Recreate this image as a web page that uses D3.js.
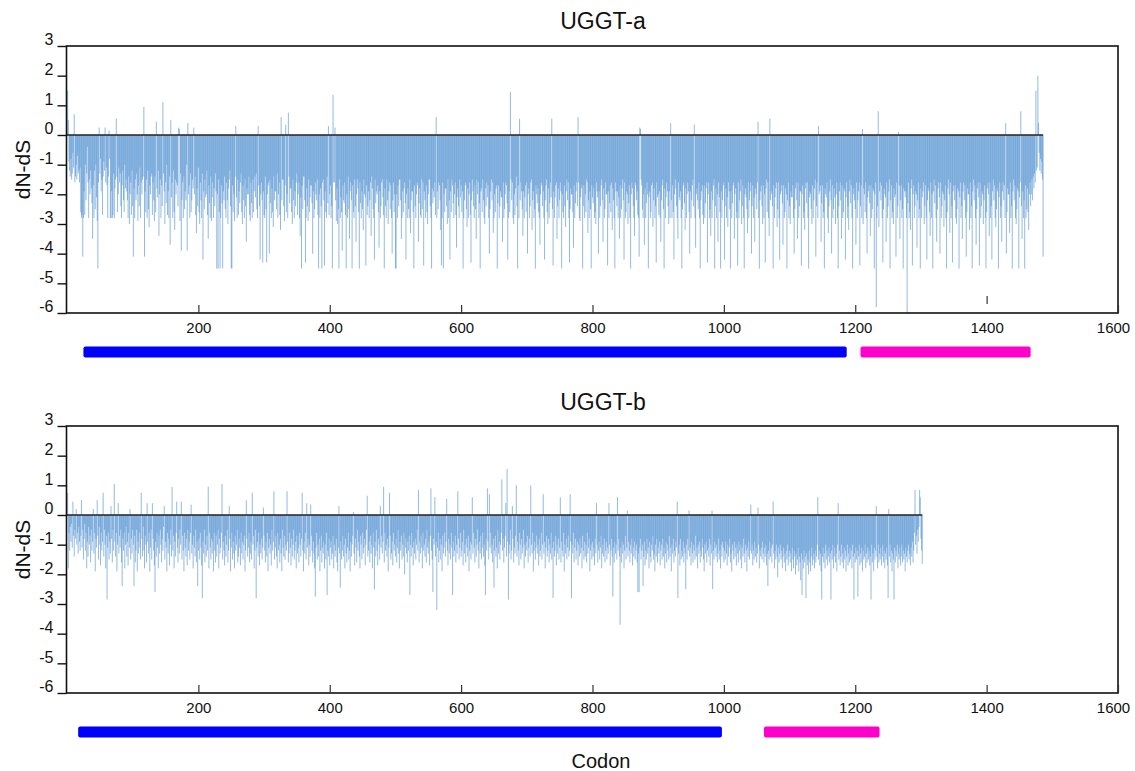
<!DOCTYPE html>
<html>
<head>
<meta charset="utf-8">
<script src="https://cdn.jsdelivr.net/npm/d3@7"></script>
<style>
  html, body { margin: 0; padding: 0; background: #fff; }
  svg { display: block; font-family: "Liberation Sans", Arial, sans-serif; }
</style>
</head>
<body>
<svg id="chart" width="1135" height="771"></svg>
<script>
// ---------- DATA ----------
const panelTitles = ["UGGT-a", "UGGT-b"];
const xTickValues = [200, 400, 600, 800, 1000, 1200, 1400, 1600];
const yTickValues = [3, 2, 1, 0, -1, -2, -3, -4, -5, -6];
const xLabel = "Codon";
const yLabel = "dN-dS";

// domain annotation bars [startCodon, endCodon]
const domainsA = [[25, 1187], [1208, 1467]];
const domainsB = [[17, 997], [1061, 1237]];

// dN-dS per codon (codon = index + 1), UGGT-a
const uggtA = [
1.5,0.5,-0.9,-1.2,-1.4,-0.8,-1.5,-1.3,-0.6,-1.1,0.7,-1.6,-1.4,-1.0,-1.5,-0.7,-1.3,-1.2,-1.6,-1.1,
-2.6,-2.8,-2.7,-4.1,-2.8,-1.9,-2.7,-1.0,-2.2,-1.3,-0.4,-1.6,-2.8,-1.5,-2.0,-1.2,-1.8,-2.3,-3.5,-1.7,
-2.8,-1.2,-2.5,-1.0,-2.1,-2.9,-4.5,-1.6,0.25,-1.3,-0.8,-1.9,-1.5,-2.7,-1.4,-0.9,-1.2,0.25,-1.6,-1.1,
-1.7,-2.8,-1.4,0.15,-0.8,-2.8,-2.8,-1.9,-2.8,-2.7,-1.3,-2.8,-1.8,-1.5,0.55,-1.4,-2.6,-2.0,-1.1,-1.6,
-1.3,-2.4,-2.8,-1.7,-1.2,-2.2,-2.6,-1.0,-1.8,-1.5,-1.9,-2.2,-2.8,-1.4,-3.0,-2.0,-1.6,-2.7,-1.2,-2.4,
-4.1,-1.8,-2.8,-1.5,-2.2,-1.3,-2.0,-2.9,-1.7,-2.4,-1.1,-2.8,-1.6,-2.0,-1.5,-1.4,0.95,-4.1,-1.9,-2.6,
-1.5,-2.8,-1.2,-2.5,-3.1,-1.7,-2.0,-1.4,-1.3,-2.7,-1.6,-2.2,-2.9,-1.4,-2.6,0.45,-1.8,-2.1,-1.2,-3.4,
-2.0,-1.5,-2.8,-1.7,-2.4,1.1,-1.3,-1.9,-3.0,-1.6,-2.3,-1.0,-2.7,-1.9,-2.8,-1.4,-3.7,0.5,-2.1,-1.6,
-2.8,-1.2,-2.6,-3.2,-1.5,-2.0,-1.6,-1.7,-2.4,0.25,0.2,-2.9,-1.3,-3.9,-2.2,-1.6,-2.8,-1.4,-2.5,-1.9,
-2.2,-1.0,-3.9,0.4,-2.0,-1.7,-2.8,-1.3,-2.6,-2.2,-1.5,-1.8,0.25,-2.0,-1.4,-2.7,-3.3,-1.8,-2.4,-1.1,
-2.6,-3.0,-1.6,-2.2,-2.8,-1.3,-4.2,-1.9,-2.5,-1.5,-2.1,-2.0,-1.2,-2.7,-3.5,-1.7,-2.3,-2.8,-1.4,-2.9,
-2.1,-1.6,-2.8,-1.8,-2.4,-1.3,-1.9,-4.5,-2.0,-4.5,-1.5,-2.6,-4.5,-2.8,-1.7,-2.3,-4.5,-1.9,-2.2,-1.4,
-2.5,-2.8,-1.6,-2.2,-3.0,-1.8,-1.5,-1.2,-2.4,-4.5,-4.5,-1.7,-2.6,-2.0,-2.9,-1.4,0.3,-2.1,-2.8,-1.5,
-2.7,-1.9,-2.3,-1.6,-1.3,-2.6,-3.0,-1.7,-2.2,-2.8,-1.5,-2.4,-3.6,-1.8,-2.0,-2.0,-1.4,-2.7,-2.9,-1.6,
-2.3,-2.8,-1.5,-2.6,-1.9,-1.4,-2.1,-1.3,-2.5,-2.8,0.3,-1.7,-2.4,-4.2,-2.0,-1.6,-2.2,-4.3,-1.9,-2.7,
-2.8,-1.4,-2.5,-4.3,-2.0,-1.7,-1.6,-4.0,-1.5,-2.3,-2.8,-1.8,-2.6,-3.1,-1.4,-2.2,-1.9,-1.9,-2.5,-1.3,
-2.8,-2.0,-1.6,-2.7,-3.2,0.6,-2.2,-1.5,-1.5,-2.4,-2.9,-1.7,0.35,-2.6,-2.0,-2.8,0.75,-1.4,-2.3,-1.8,
-1.8,-2.6,-3.0,-1.5,-2.2,-2.8,-1.9,-2.4,-1.6,-1.3,-2.7,-2.0,-1.6,-2.8,-3.4,-2.1,-4.5,-1.7,-2.5,-1.4,
-1.4,-2.2,-4.3,-2.8,-1.8,-2.4,-2.9,-1.5,-2.6,-2.1,-1.7,-1.7,-2.3,-4.0,-1.9,-2.8,-2.5,-1.6,-2.0,-2.2,
-1.5,-2.7,-4.5,-2.0,-2.8,-1.8,-2.4,-4.5,-1.6,-1.5,-2.2,-4.4,-1.9,-2.6,-2.8,-1.4,-2.3,0.3,-2.7,-2.0,
-1.7,-2.8,-2.4,-4.5,1.35,-1.6,-1.6,0.25,-2.2,-2.9,-1.8,-3.0,-2.5,-4.5,-1.5,-2.8,-2.1,-2.6,-3.9,-1.7,
-2.2,-2.3,-1.6,-2.7,-4.5,-2.0,-2.8,-1.4,-2.5,-3.5,-1.9,-1.6,-2.2,-4.5,-1.7,-2.6,-2.8,-1.5,-2.4,-3.6,
-2.0,-1.5,-1.8,-2.6,-4.5,-1.6,-2.3,-2.8,-1.9,-2.5,-3.2,-1.5,-2.0,-2.1,-4.4,-1.7,-2.7,-2.4,-1.9,-2.8,
-2.2,-1.6,-3.4,-1.4,-1.8,-2.5,-2.8,-4.2,-1.5,-2.3,-1.9,-2.0,-1.7,-2.6,-3.8,-1.9,-2.8,-2.4,-1.6,-1.5,
-2.1,-2.7,-4.5,-1.8,-2.4,-2.8,-1.5,-2.2,-3.0,-1.9,-1.6,-2.5,-1.7,-2.8,-4.0,-2.2,-1.6,-2.6,-2.0,-4.5,
-4.5,-2.0,-2.8,-1.7,-2.4,-1.5,-1.5,-2.2,-3.5,-2.8,-1.9,-2.6,-1.8,-1.6,-2.3,-4.2,-2.0,-2.8,-1.8,-2.5,
-2.8,-1.5,-3.3,-2.2,-1.9,-1.9,-2.6,-4.5,-1.7,-2.4,-2.8,-2.0,-1.6,-1.7,-3.6,-2.3,-1.8,-2.7,-2.8,-1.5,
-2.5,-1.6,-4.4,-1.9,-2.2,-2.8,-1.7,-2.6,-3.0,-2.0,-1.5,-1.5,-2.4,-2.8,-4.5,-1.8,-2.3,-1.9,-2.1,-1.6,
-2.7,0.6,-2.8,-1.9,-2.5,-1.6,-1.7,-2.2,-3.2,-4.4,-2.8,-1.6,-4.5,-2.0,-2.6,-1.8,-1.8,-2.4,-3.0,-1.5,
-2.8,-2.2,-4.2,-1.9,-2.6,-1.5,-1.7,-2.3,-2.8,-2.0,-1.6,-2.7,-3.8,-2.1,-1.8,-2.4,-2.8,-1.5,-2.1,-1.7,
-2.6,-1.9,-4.5,-2.8,-2.2,-1.7,-1.6,-2.5,-3.1,-1.8,-2.8,-2.0,-1.6,-2.7,-4.3,-2.2,-1.5,-1.9,-2.4,-2.8,
-1.7,-2.5,-3.5,-1.5,-2.0,-1.6,-2.8,-2.3,-4.5,-1.9,-1.8,-2.6,-1.5,-2.2,-2.8,-3.0,-1.8,-2.4,-1.6,-2.1,
-1.7,-2.8,-4.0,-2.5,-1.9,-1.5,-2.2,-1.6,-3.3,-2.8,-2.0,-2.6,-1.8,-1.7,-4.5,-2.3,-1.7,-2.8,-2.4,-1.9,
-2.1,-2.1,-3.6,-1.6,-2.8,-2.5,-2.0,-1.6,-1.7,-2.3,-4.2,-2.8,-1.9,-2.6,1.45,-1.5,-2.2,-1.6,-2.8,-3.0,
-2.0,-2.7,-1.8,-1.4,-2.4,-4.5,-1.7,-2.8,0.55,-2.2,-1.6,-1.9,-2.5,-3.4,-1.9,-2.8,-2.1,-1.7,-2.6,-1.6,
-4.0,-2.0,-1.8,-2.8,-2.4,-1.6,-1.5,-3.2,-2.2,-1.9,-2.8,-2.5,-4.5,-1.7,-2.0,-2.3,-1.8,-2.6,-2.8,-3.7,
-2.0,-1.6,-1.7,-2.4,-1.9,-2.8,-4.2,-2.2,-1.7,-1.5,-2.6,-3.0,-1.8,-2.8,-2.3,-1.6,-2.1,0.55,-2.5,-4.4,
-1.9,-2.8,-2.1,-1.7,-1.6,-3.5,-2.4,-1.8,-2.8,-2.2,-1.6,-1.9,-4.5,-2.0,-2.6,-2.8,-1.7,-2.4,-3.1,-1.9,
-1.5,-2.2,-1.6,-2.8,-4.3,-2.5,-1.8,-2.0,-2.0,-2.6,-3.8,-1.7,-2.8,-2.3,-1.9,-1.6,-2.4,0.6,-1.6,-2.8,
-2.9,-2.1,-1.8,-1.7,-4.5,-2.4,-1.7,-2.8,-2.0,-2.6,-1.5,-1.6,-3.3,-2.2,-2.8,-1.9,-2.5,-4.5,-1.7,-2.1,
-2.3,-1.8,-2.8,-2.6,-3.0,-1.6,-1.9,-2.1,-4.0,-1.9,-2.8,-2.4,-1.7,-1.5,-2.2,-3.6,-1.8,-2.8,-2.5,-1.6,
-2.0,-2.0,-4.4,-1.9,-2.8,-2.3,-1.7,-2.6,-1.6,-3.2,-1.8,-2.2,-2.8,-4.5,-1.6,-1.9,-2.4,-1.9,-2.8,-2.1,
-3.5,-1.7,-2.8,-2.5,-1.8,-1.5,-2.2,-4.2,-1.6,-2.8,-2.6,-1.9,-2.0,-3.0,-2.3,-1.7,-2.8,-4.5,-2.0,-1.6,
-1.8,-2.4,-2.8,-3.4,-1.6,-1.7,-2.2,-1.9,-2.7,-2.8,-4.1,0.25,0.2,-1.5,-1.7,-2.5,-2.8,-2.0,-3.7,-1.8,
-2.8,-2.3,-1.6,-2.0,-4.5,-2.1,-1.9,-2.8,-2.6,-1.7,-1.6,-3.1,-2.2,-1.8,-2.8,-2.4,-4.3,-1.6,-2.1,-2.0,
-2.7,-1.9,-2.8,-3.6,-2.2,-1.7,-1.5,-2.5,-4.5,-1.8,-2.8,-2.1,-1.6,-1.9,-2.4,-3.0,-1.9,-2.8,0.4,-2.2,
-2.8,-1.7,-2.6,-4.2,-2.0,-1.5,-1.8,-2.4,-2.8,-3.5,-1.6,-2.1,-2.2,-1.9,-2.8,-4.5,-2.5,-1.7,-1.6,-2.3,
-3.2,-1.8,-2.8,-2.0,-1.6,-1.9,-2.6,-4.0,-1.9,-2.8,-2.2,-1.7,-1.5,-2.4,0.35,-2.8,-3.8,-2.0,-1.8,-2.2,
-2.5,-1.6,-2.8,-4.5,-2.2,-1.9,-1.7,-2.7,-3.0,-1.7,-2.8,-2.3,-1.8,-1.6,-4.3,-2.0,-1.6,-2.8,-2.5,-3.4,
-1.9,-2.8,-2.2,-1.7,-1.5,-4.5,-2.4,-1.8,-2.8,-2.0,-3.6,-1.6,-2.1,-2.6,-4.5,-1.9,-2.8,-2.2,-1.7,-1.6,
-4.2,-2.4,-1.8,-2.8,-2.1,-3.1,-1.6,-1.9,-2.5,-4.5,-1.9,-2.8,-2.3,-1.7,-1.6,-3.5,-2.0,-1.8,-2.8,-2.6,
-4.4,-1.6,-2.8,-2.2,-1.9,-1.5,-3.0,-2.4,-1.7,-2.8,-4.5,-2.0,-1.8,-2.1,-2.5,-3.3,-1.6,-2.8,-2.2,-1.9,
-1.6,-4.0,-2.4,-1.7,-2.8,-2.1,-3.6,-1.8,-2.0,-2.5,-1.6,0.45,-2.8,-4.5,-2.2,-1.9,-1.7,-2.4,-3.0,-1.7,
-2.8,-2.0,-4.3,-1.8,-1.5,-2.6,-1.6,-2.8,-3.4,0.55,-2.2,-1.9,-2.0,-2.4,-4.5,-1.7,-2.8,-2.1,-1.8,-1.6,
-3.1,-2.5,-1.6,-2.8,-4.2,-2.0,-1.9,-1.7,-2.3,-3.7,-1.7,-2.8,-2.6,-1.8,-2.0,-4.5,-2.2,-1.6,-2.8,-2.4,
-3.0,-1.9,-2.1,-2.1,-1.7,-2.8,-4.0,-2.5,-1.8,-1.6,-2.2,-3.5,-1.6,-2.8,-2.4,-1.9,-1.9,-4.4,-2.0,-1.7,
-2.8,-2.6,-3.2,-1.8,-1.6,-2.3,-1.6,-2.8,-4.5,-2.1,-1.9,-2.0,-2.5,-3.0,-1.7,-2.8,-2.2,-1.8,-1.5,-4.1,
-2.4,-1.6,-2.8,0.3,-2.0,-1.9,-1.7,-3.6,-2.3,-1.7,-2.8,-2.6,-4.5,-1.8,-2.0,-2.1,-1.6,-2.8,-3.3,-2.4,
-1.9,-1.5,-2.2,-4.0,-1.7,-2.8,-2.5,-1.8,-2.1,-3.0,-2.0,-1.6,-2.8,-4.5,-2.4,-1.9,-1.6,-2.2,-3.5,-1.7,
-2.8,-2.6,-1.8,-1.9,-4.2,-2.1,-1.6,-2.8,-2.4,-3.2,-1.9,-1.5,-2.3,-1.7,-2.8,-4.5,-2.0,-1.8,-2.2,-2.5,
-3.7,-1.6,-2.8,-2.2,-1.9,-1.6,-4.4,-2.4,-1.7,-2.8,0.2,-3.0,-1.8,-2.0,-2.6,-1.6,-2.8,-4.0,-2.1,-1.9,
-1.7,-2.3,-3.4,-1.7,-2.8,-2.5,-1.8,-1.9,-4.5,-2.0,-1.6,-5.8,-2.8,-2.4,0.8,-3.1,-1.9,-1.6,-2.2,-1.7,
-2.8,-4.3,-2.5,-1.8,-2.0,-2.1,-3.6,-1.6,-2.8,-2.4,-1.9,-1.5,-4.5,-2.2,-1.7,-2.8,-2.6,-3.0,-1.8,-2.1,
-2.0,-4.1,-1.6,-2.8,-2.4,0.1,-1.7,-3.5,-2.2,-1.7,-2.8,-2.5,-4.5,-1.8,-1.9,-2.1,-1.9,-2.8,-6.0,-2.3,
-1.6,-2.8,-2.6,-3.2,-1.8,-1.5,-4.4,-2.0,-1.7,-2.8,-2.4,-1.9,-2.0,-3.8,-2.2,-1.6,-2.8,-2.5,-4.5,-1.8,
-2.8,-2.1,-1.9,-1.6,-3.0,-2.4,-1.7,-2.8,-4.2,-2.2,-1.8,-1.9,-2.6,-3.4,-1.6,-2.8,-2.0,-4.5,-1.9,-1.5,
-2.3,-1.7,-2.8,-3.6,-2.5,-1.8,-1.6,-2.1,-4.0,-1.6,-2.8,-2.4,-1.9,-2.0,-3.1,-2.2,-1.7,-2.8,-4.5,-2.6,
-1.8,-1.5,-2.0,-3.3,-1.6,-2.8,-2.4,-4.3,-1.9,-1.7,-2.2,-1.7,-2.8,-3.0,-2.5,-1.8,-1.9,-4.5,-2.1,-1.6,
-2.8,-2.4,-3.5,-1.9,-1.6,-2.2,-1.7,-2.8,-4.1,-2.6,-1.8,-2.0,-2.0,-3.2,-1.6,-2.8,-2.4,-4.5,-1.9,-1.5,
-2.2,-1.7,-2.8,-3.7,-2.5,-1.8,-1.6,-2.1,-4.4,-1.6,-2.8,-2.4,-1.9,-2.0,-3.0,-2.2,-1.7,-2.8,-4.5,-2.6,
-1.8,-1.6,-2.0,-3.4,-1.6,-2.8,-2.4,-4.2,-1.9,-1.5,-2.2,-1.7,-2.8,-3.1,-2.5,-1.8,-1.9,-4.5,-2.1,-1.6,
-2.8,-2.4,-3.6,-1.9,-1.6,-2.2,-1.7,-2.8,0.4,-4.0,-2.6,-1.8,-2.0,-2.0,-3.3,-1.6,-2.8,-2.4,-4.5,-1.9,
-1.5,-2.2,-1.7,-2.8,-3.0,-2.5,-1.8,-1.9,-4.5,-2.1,-1.6,0.8,-2.4,-3.5,-1.9,-2.8,-2.2,-4.5,-1.7,-2.8,
-2.5,-1.8,-2.6,-3.2,-2.0,-1.6,-2.4,-2.0,-1.5,-2.2,-1.4,-1.8,-1.3,-1.6,1.5,-1.2,-1.1,2.0,0.4,-0.6,
-1.2,-0.8,-1.3,-0.9,-1.5,-4.1
];

// dN-dS per codon (codon = index + 1), UGGT-b
const uggtB = [
0.75,-1.8,-0.6,-1.2,-0.4,-0.9,-0.3,-1.1,0.45,-0.7,-1.4,-0.5,-0.8,0.2,-1.0,-0.6,-1.3,-0.4,-0.9,-1.2,
-0.7,0.5,-1.1,-0.5,-1.5,-0.8,-0.3,-1.2,-0.6,-1.8,-0.9,-1.4,-0.4,-1.0,-0.7,-1.6,-0.5,-1.2,-0.9,0.2,
-1.3,-0.6,-1.9,-0.8,-1.1,0.5,-0.7,-1.5,-0.4,-1.0,-1.7,-0.6,-1.2,-0.9,0.75,-1.4,-0.5,-1.0,-1.8,-0.7,
-2.85,-1.1,-0.6,-1.5,-0.9,-1.3,0.3,-0.8,-1.6,-0.5,-1.2,1.05,-0.9,-1.4,-0.6,-1.9,-1.0,0.4,-1.3,-0.7,
-1.1,-0.5,-1.6,-2.4,-0.8,-1.2,-0.6,-1.8,-1.0,-0.4,-1.4,-0.9,-1.7,-0.6,-1.1,0.2,-1.5,-0.8,-1.3,-0.5,
-1.0,-2.4,-0.7,-1.6,-1.2,-0.5,-1.9,-0.9,-1.3,-0.6,-1.1,-1.5,0.75,-0.8,-1.4,-0.4,-1.2,-1.8,-0.7,-1.0,
-1.6,0.4,-0.9,-1.3,-0.6,-1.9,-1.1,-0.5,-1.5,0.4,-0.8,-1.2,-1.7,-2.6,-0.9,-1.4,-0.6,-1.1,-1.8,-0.7,
-1.3,-0.5,-1.0,-1.6,-0.8,-1.2,-0.4,0.3,-1.5,-0.9,-1.1,-1.9,-0.6,-1.3,-0.8,-1.7,-1.0,-0.5,-1.4,0.95,
-1.2,-0.7,-1.8,-0.9,-1.4,-0.6,0.45,-1.1,-1.6,-0.8,-1.3,-0.5,-1.0,0.45,-1.5,-0.7,-1.2,-1.9,-0.6,-1.1,
-1.4,-0.8,-1.7,-0.5,-1.2,-0.9,-1.5,-0.6,0.35,-1.3,-1.0,-1.8,-0.7,-1.1,-1.4,-0.5,-1.6,-0.9,-2.4,-1.2,
-0.8,-1.5,-0.6,-1.1,-1.7,-2.8,-0.9,-1.3,-0.5,-1.6,-1.0,-1.4,-0.7,-1.2,0.95,-1.8,-0.6,-1.1,-1.5,-0.8,
-1.3,-0.9,-1.9,-0.6,-1.2,-1.6,-0.7,-1.4,-1.0,-0.5,-1.8,-0.8,-1.3,-1.1,-0.6,1.05,-1.5,-0.9,-1.2,-1.7,
-0.7,-1.4,-1.0,-0.5,-1.6,-1.2,0.3,-0.8,-1.9,-1.1,-0.6,-1.5,-0.9,-1.3,-1.8,-0.7,-1.2,-1.0,-0.5,-1.6,
-1.4,-0.8,-1.1,-1.7,-0.6,-1.3,-0.9,-1.5,-1.0,-0.7,-1.9,-1.2,0.5,-0.8,-1.4,-1.1,-0.6,-1.6,-1.3,-0.9,
-1.5,0.75,-1.0,-0.7,-1.8,-1.2,-0.5,-2.8,-1.1,-0.9,-1.4,-0.6,-1.7,-1.0,-1.3,-0.8,-1.5,-1.1,0.25,-0.7,
-1.2,-1.6,-0.9,-1.4,-0.6,-1.9,-1.1,-0.8,-1.3,-1.0,-1.7,-0.5,-1.2,-0.9,0.8,-1.5,-1.1,-0.7,-1.4,-1.8,
-0.6,-1.2,-1.0,-1.6,-0.8,-1.3,-1.9,-0.5,-1.1,-1.4,-0.7,-1.5,-1.0,-1.2,0.8,-0.9,-1.6,-1.3,-0.6,-1.1,
-1.7,-0.8,-1.4,-1.0,-0.5,-1.5,-1.2,-0.9,-1.8,-0.7,-1.3,-1.1,-1.6,-0.6,-1.0,-1.4,-0.8,0.75,-1.2,-1.9,
-0.9,-1.3,-0.6,-1.5,0.4,-1.1,-0.8,-1.7,-1.0,-1.4,0.35,-0.7,-1.2,-1.6,-0.9,-1.3,-1.8,-2.75,-1.1,-0.6,
-1.5,-1.0,-1.4,-0.8,-1.9,-1.2,-0.7,-1.6,-1.1,-1.3,-0.9,-1.8,-1.0,-1.5,-0.6,-2.7,-1.2,-1.4,-0.8,-1.7,
-1.1,-0.9,-1.5,-1.3,-0.7,-1.8,-1.0,-1.4,-1.2,-0.8,-1.6,-1.9,-1.1,0.3,-1.3,-2.45,-0.9,-1.5,-1.2,-0.7,
-1.4,-1.0,-1.8,-0.8,-1.3,-1.6,-1.1,-0.6,-1.5,-1.2,-1.9,-0.9,-1.4,-1.0,-0.7,0.1,-1.3,-1.7,-0.8,-1.1,
-1.6,-0.5,-1.2,-0.9,-1.4,-1.8,-0.7,-1.0,-1.5,-0.6,-1.3,-1.1,-0.8,-1.7,-1.0,-0.5,0.65,-1.4,-1.2,-0.9,
-1.6,-0.7,-1.3,-1.0,-1.8,-0.6,-1.1,-2.5,-0.9,-1.4,-0.5,-1.2,-1.7,-0.8,-1.0,-1.5,0.3,-1.1,-0.7,-1.3,
-0.9,0.95,-1.6,-0.6,-1.2,-1.0,-1.4,-0.8,-1.9,-1.1,0.75,-0.7,-1.5,-1.3,-0.9,-1.7,-0.6,-1.2,-1.0,-1.4,
-0.8,-1.6,-1.1,-0.5,-1.3,-1.8,-0.9,-1.2,-0.7,-1.5,-1.0,-1.4,-0.6,-2.0,-1.1,-0.8,-1.3,-1.6,-0.9,-1.2,
-0.7,-2.7,-1.0,-1.4,-0.6,-1.1,-1.7,-0.9,-1.3,-0.8,-1.5,-1.0,-0.5,-1.2,0.85,-1.6,-0.9,-1.3,-0.7,-1.1,
-1.8,-0.6,-1.2,-1.0,-1.4,-0.8,-1.6,-0.5,-1.1,-1.3,-0.9,-1.7,-0.7,0.9,-1.2,-1.5,-2.6,-0.8,-1.0,0.6,
-1.4,-0.9,-3.2,-1.1,-0.6,-1.6,-1.2,-0.8,-1.5,-1.0,-1.9,-0.7,-1.3,-1.1,-0.6,-1.4,-0.9,0.55,-1.2,-1.7,
-0.8,-1.3,-1.0,-1.5,-0.6,-1.1,-2.7,-0.9,-1.4,-1.2,-0.7,-1.6,-1.0,-1.3,0.8,-0.8,-1.5,-1.1,-0.6,-1.4,
-1.2,-0.9,-1.7,-0.5,-1.3,-1.0,-1.6,-0.8,-1.1,-1.4,-0.7,-1.9,-1.2,-0.9,-1.5,-1.0,0.6,-1.3,-0.6,-1.1,
-1.6,-0.8,-1.4,-1.0,-0.5,-1.2,-1.8,-0.9,-1.3,-0.7,-1.5,-1.1,-0.6,-1.4,-1.0,-1.7,-2.7,-0.8,-1.2,0.9,
-0.9,-1.5,0.7,-1.1,-0.6,-1.3,-1.0,-1.6,-0.8,-2.45,-1.2,-0.7,-1.4,-1.1,-1.8,-0.5,-1.3,-0.9,-1.5,-1.0,
-0.6,1.2,-1.2,-0.8,-1.6,-1.1,-0.7,0.4,-1.4,1.55,-0.9,-2.85,-1.3,-1.0,-0.5,-1.5,-1.2,0.3,-0.8,-1.6,
-1.1,-1.3,-0.7,1.0,-1.4,-0.9,-1.2,-1.7,-0.6,-1.0,-1.5,-0.8,-1.3,-1.1,-0.5,-1.8,-1.0,-1.4,-0.9,-1.2,
-0.7,-1.6,-1.1,-0.8,-1.4,1.0,-1.0,-1.3,-0.6,-1.9,-1.2,-0.9,-1.5,-1.1,-0.7,-1.3,-1.0,-1.7,-0.8,-1.4,
-1.2,-0.6,-1.5,-1.0,0.7,-1.3,-0.9,-1.8,-1.1,-0.7,-1.4,-1.2,-0.8,-1.6,-1.0,-1.3,-0.6,-1.5,-1.1,-2.8,
-0.9,-1.4,-1.2,-0.7,-1.7,-1.0,-1.3,-0.8,-1.5,-1.1,0.6,-1.6,-0.9,-1.2,-1.4,-0.6,-1.9,-1.0,-1.3,-0.8,
-1.5,-1.1,-0.7,-1.4,-1.2,0.7,-0.9,-2.8,-1.0,-1.3,-0.6,-1.6,-1.1,-0.8,-1.5,-1.2,-0.9,-1.7,-1.0,-1.4,
-0.8,-1.3,-1.1,-1.8,-0.7,-1.2,-1.5,-0.9,-1.4,-1.0,-1.6,-0.6,-1.3,-1.1,-0.8,-1.9,-1.2,-1.0,-1.5,-0.9,
-1.4,-1.1,-1.7,-0.8,-1.3,0.4,-1.0,-1.6,-1.2,-0.9,-1.5,-1.1,-0.7,-1.8,-1.3,-1.0,-1.4,-0.8,-1.6,-1.2,
-0.9,-1.5,-1.1,-1.3,0.4,-1.0,-1.7,-1.2,-0.8,-1.4,-2.75,-1.1,-1.6,-0.9,-1.3,-1.0,-1.5,0.6,-1.2,-0.8,
-1.4,-3.7,-1.1,-1.6,-0.9,-1.3,-1.0,-1.8,-1.2,-0.7,-1.5,-1.1,0.15,-1.4,-0.9,-1.2,-1.6,-1.0,-1.3,-0.8,
-1.7,-1.1,-1.4,-0.9,-1.5,-1.2,-1.0,-1.6,-2.6,-1.3,-2.6,-1.1,-0.8,-1.5,-1.2,-1.0,-2.4,-1.4,-0.9,-1.7,
-1.2,-1.5,-0.8,-1.3,-1.1,-1.8,-0.9,-1.4,-1.6,-1.0,-1.2,-0.7,-1.5,-1.3,-1.9,-1.0,-1.4,-0.8,-1.6,-1.1,
-1.3,-0.9,-1.7,-1.2,-1.0,-1.5,-0.8,-1.4,-1.1,-1.8,-1.3,-0.9,-1.6,-1.0,-1.2,-1.5,-0.7,-1.4,-1.1,-1.9,
-1.0,-1.3,-0.8,-1.6,-1.2,-1.4,-0.9,-1.1,0.45,-2.8,-1.3,-1.0,-1.7,-0.8,-1.5,-1.2,-1.4,-0.9,-1.6,-1.1,
-1.3,-2.5,-1.0,-1.5,-0.8,-1.2,0.15,-1.4,-1.1,-1.7,-0.9,-1.3,-1.6,-1.0,-1.2,-1.5,-0.7,-1.4,-1.1,-1.8,
-1.0,-1.3,-0.9,-1.6,-1.2,-1.4,-0.8,-1.1,-1.5,-1.9,-1.0,-1.3,-0.9,-1.6,-1.2,-1.1,-1.4,-0.8,-1.7,-1.0,
-1.3,0.15,-2.5,-1.2,-1.5,-0.9,-1.1,-1.4,-1.0,-1.6,-1.3,-0.8,-1.5,-1.2,-1.8,-1.0,-1.4,-0.9,-1.1,-1.6,
-1.2,-1.5,-0.9,-1.3,-1.7,-1.0,-1.4,-1.1,-0.8,-1.6,-1.3,-1.9,-1.0,-1.2,-1.5,-0.9,-1.4,-1.1,-1.7,-1.0,
-1.3,-1.6,-0.9,-1.2,-1.5,-1.0,-1.8,-1.1,-1.4,-0.8,-1.3,-1.6,-1.0,-1.2,-1.9,-1.1,-1.4,-0.9,-1.5,-1.2,
0.35,-1.3,-1.0,-1.7,-1.2,-1.5,-0.9,-1.4,-1.1,-1.6,-1.3,0.25,-1.0,-1.8,-1.2,-1.4,-1.1,-1.5,-0.9,-1.3,
-1.6,-1.1,-1.4,-1.0,-1.7,-1.3,-2.4,-1.2,-1.5,-0.9,-1.4,-1.1,-1.6,-1.0,0.45,-1.3,-1.8,-1.2,-1.5,-1.0,
-1.4,-2.1,-1.1,-1.6,-1.3,-1.0,-1.5,-1.2,-1.8,-1.4,-1.1,-1.6,-1.3,-1.9,-1.2,-1.5,-1.0,-1.7,-1.4,-1.2,
-1.6,-1.3,-1.9,-1.1,-1.5,-1.8,-1.2,-1.4,-2.0,-1.3,-1.7,-1.5,-1.1,-1.9,-1.4,-1.6,-2.2,-1.3,-2.7,-1.5,
-1.8,-1.2,-1.6,-1.4,-2.8,-1.3,-1.7,-1.5,-2.0,-1.2,-1.6,-1.9,-1.4,-1.1,-1.7,-1.5,-1.3,-1.8,-1.2,-1.6,
-1.4,-1.0,0.6,-1.5,-1.2,-1.7,-1.3,-1.9,-2.85,-1.4,-1.1,-1.6,-1.3,-1.8,-1.0,-1.5,-1.2,-1.7,-1.4,-1.1,
-1.6,-1.3,-2.85,-1.2,-1.5,-1.0,-1.8,-1.4,-1.1,-1.6,-1.3,-1.9,-1.0,0.4,-1.5,-1.2,-1.7,-1.4,-1.0,-1.6,
-1.3,-1.8,-1.1,-1.5,-1.2,-1.9,-1.4,-1.0,-1.7,-1.3,-1.6,-1.1,-1.5,-1.2,-1.8,-1.0,-1.4,-2.85,-1.3,-1.6,
-1.1,-1.5,-1.2,-2.75,-1.4,-1.0,-1.7,-1.3,-1.6,-1.1,-1.9,-1.2,-1.5,-1.4,-1.0,-1.8,-1.3,-1.6,-1.1,-1.5,
-1.2,-1.7,-1.4,-2.85,-1.0,-1.6,-1.3,-1.9,-1.1,-1.5,-1.2,0.3,-1.4,-1.8,-1.0,-1.6,-1.3,-1.5,-1.1,-1.7,
-1.4,-1.0,-1.6,-1.2,-1.8,-1.3,-1.5,-1.1,-1.7,-2.8,0.2,-1.4,-1.0,-1.6,-1.2,-1.9,-1.3,-1.5,-2.85,-1.1,
-1.6,-1.2,-1.4,-1.0,-1.8,-1.3,-1.5,-1.1,-1.7,-1.4,-1.0,-1.6,-1.2,-1.5,-1.3,-1.9,-1.1,-1.4,-1.6,-1.2,
-1.0,-1.5,-1.3,-1.7,-1.1,-1.4,-0.9,-1.6,-1.2,-0.6,0.85,-1.0,-0.7,-1.3,-0.5,-0.9,-0.4,0.85,0.6,-0.8,
-1.2,-1.65
];

// ---------- CHART ----------
const svg = d3.select("#chart");
const x = d3.scaleLinear().domain([0, 1600]).range([67, 1118]);

const panels = [
  { title: panelTitles[0], data: uggtA, domains: domainsA, top: 46, bottom: 313, titleY: 29, barY: 352, floatTick: 1400 },
  { title: panelTitles[1], data: uggtB, domains: domainsB, top: 426, bottom: 693, titleY: 410, barY: 732, floatTick: null }
];
const domainColors = ["#0000ff", "#ff00cc"];

panels.forEach(p => {
  const y = d3.scaleLinear().domain([-6, 3]).range([p.bottom, p.top]);
  const g = svg.append("g");

  // bars (one per codon)
  g.append("g")
    .selectAll("line")
    .data(p.data)
    .join("line")
    .attr("x1", (d, i) => x(i + 1))
    .attr("x2", (d, i) => x(i + 1))
    .attr("y1", y(0))
    .attr("y2", d => y(d))
    .attr("stroke", "#4a8ccf")
    .attr("stroke-opacity", 0.6)
    .attr("stroke-width", 1);

  // zero line
  g.append("line")
    .attr("x1", x(0)).attr("x2", x(p.data.length))
    .attr("y1", y(0)).attr("y2", y(0))
    .attr("stroke", "#222").attr("stroke-width", 1.4);

  // frame
  g.append("rect")
    .attr("x", x(0) - 0.5).attr("y", p.top)
    .attr("width", x(1600) - x(0) + 0.5).attr("height", p.bottom - p.top)
    .attr("fill", "none").attr("stroke", "#111").attr("stroke-width", 1.6);

  // y axis
  const ya = g.append("g")
    .attr("transform", `translate(${x(0) - 0.5},0)`)
    .call(d3.axisLeft(y).tickValues(yTickValues).tickSize(9).tickPadding(4).tickFormat(d => String(d)));
  ya.select(".domain").remove();
  ya.selectAll("line").attr("stroke", "#111").attr("stroke-width", 1.4);
  ya.selectAll("text").attr("font-size", 16).attr("fill", "#111")
    .attr("font-family", "Liberation Sans, Arial, sans-serif").attr("dy", "-0.08em");

  // x axis (ticks inward)
  const xa = g.append("g")
    .attr("transform", `translate(0,${p.bottom})`)
    .call(d3.axisBottom(x).tickValues(xTickValues).tickSizeInner(-8).tickSizeOuter(0).tickPadding(9).tickFormat(d => String(d)));
  xa.select(".domain").remove();
  xa.selectAll("line").attr("stroke", "#333").attr("stroke-width", 1.2);
  xa.selectAll("text").attr("font-size", 15).attr("fill", "#111")
    .attr("font-family", "Liberation Sans, Arial, sans-serif");
  xa.selectAll(".tick").filter(d => d === 1600).select("text").attr("x", -5);
  if (p.floatTick !== null) {
    xa.selectAll(".tick").filter(d => d === p.floatTick).select("line")
      .attr("y1", -9).attr("y2", -17);
  }

  // title
  svg.append("text")
    .attr("x", 603).attr("y", p.titleY)
    .attr("text-anchor", "middle")
    .attr("font-size", 23).attr("fill", "#111")
    .text(p.title);

  // y label
  svg.append("text")
    .attr("transform", `translate(30,${(p.top + p.bottom) / 2 - 10}) rotate(-90)`)
    .attr("text-anchor", "middle")
    .attr("font-size", 21).attr("fill", "#111")
    .text(yLabel);

  // domain bars
  svg.append("g")
    .selectAll("rect")
    .data(p.domains)
    .join("rect")
    .attr("x", d => x(d[0]))
    .attr("width", d => x(d[1]) - x(d[0]))
    .attr("y", p.barY - 5.5)
    .attr("height", 11)
    .attr("rx", 2)
    .attr("fill", (d, i) => domainColors[i]);
});

svg.append("text")
  .attr("x", 601).attr("y", 768)
  .attr("text-anchor", "middle")
  .attr("font-size", 20).attr("fill", "#111")
  .text(xLabel);
</script>
</body>
</html>
